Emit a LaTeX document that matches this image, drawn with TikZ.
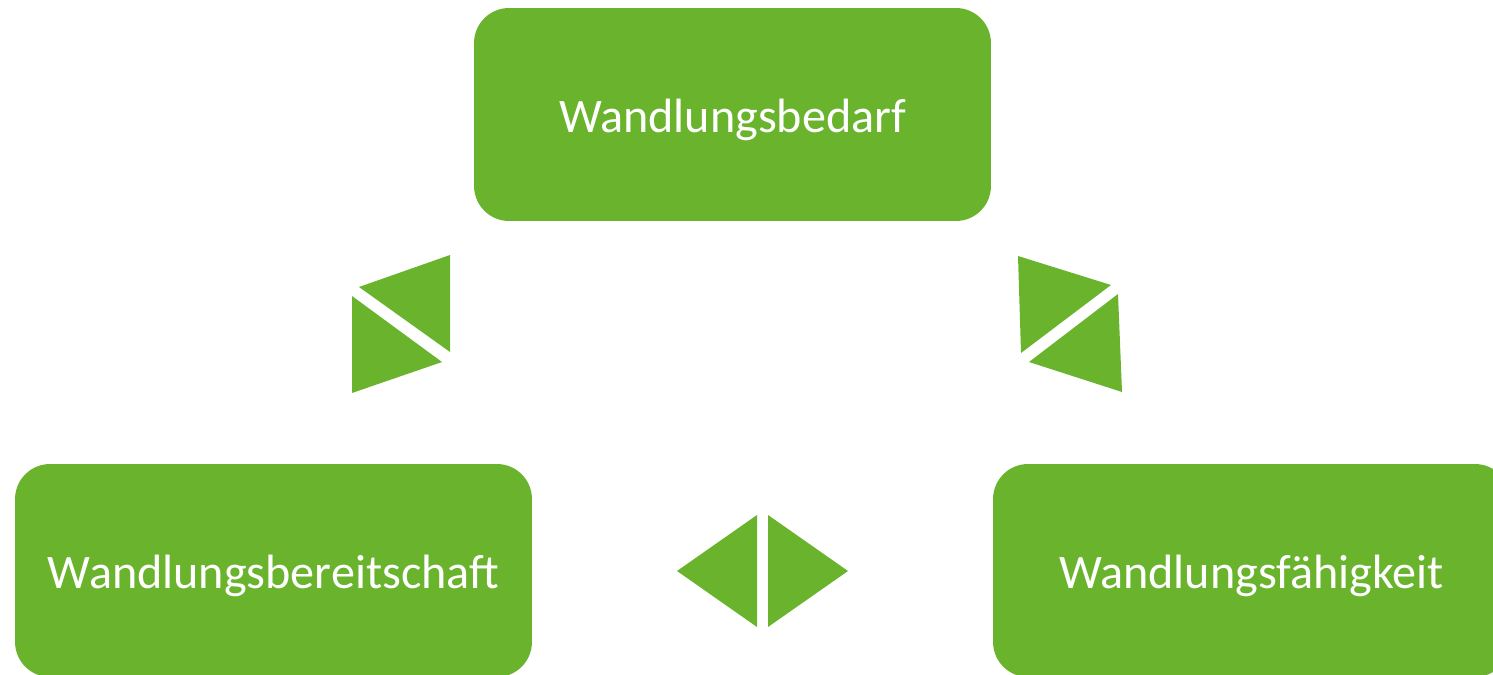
\documentclass[tikz,border=0pt]{standalone}
\usepackage{fontspec}
\setmainfont{Carlito}
\usepackage{tikz}
\usetikzlibrary{positioning}
\definecolor{wandelgruen}{RGB}{106,180,45}

\begin{document}
\begin{tikzpicture}[
            x=0.02cm, y=-0.02cm,
            feld/.style={
                    fill=wandelgruen,
                    rectangle,
                    rounded corners=0.7cm,
                    minimum width=10.34cm,
                    minimum height=4.26cm,
                    align=center,
                    text=white,
                    inner sep=0pt,
                    text height=24pt,
                    text depth=4pt,
                    font=\fontsize{27.4}{32}\selectfont
                },
            keil/.style={
                    fill=wandelgruen
                }
            ]
            \useasboundingbox (0,0) rectangle (1493,675);
            \clip (0,0) rectangle (1493,675);

            % Die drei Felder
            \node[feld] (bedarf) at (732.5,114.5) {Wandlungsbedarf};
            \node[feld] (bereitschaft) at (273.5,570.5) {Wandlungsbereitschaft};
            \node[feld] (faehigkeit) at (1251.5,570.5) {Wandlungsfähigkeit};

            % Keile links oben
            \fill[keil] (450,255) -- (359,287) -- (450,352) -- cycle;
            \fill[keil] (352,296) -- (352,393) -- (442,362) -- cycle;

            % Keile rechts oben
            \fill[keil] (1018,256) -- (1111,285) -- (1021,353) -- cycle;
            \fill[keil] (1118,294) -- (1122,392) -- (1029,362) -- cycle;

            % Keile unten
            \fill[keil] (757,515) -- (677,571) -- (757,627) -- cycle;
            \fill[keil] (768,515) -- (848,571) -- (768,627) -- cycle;

        \end{tikzpicture}
\end{document}
